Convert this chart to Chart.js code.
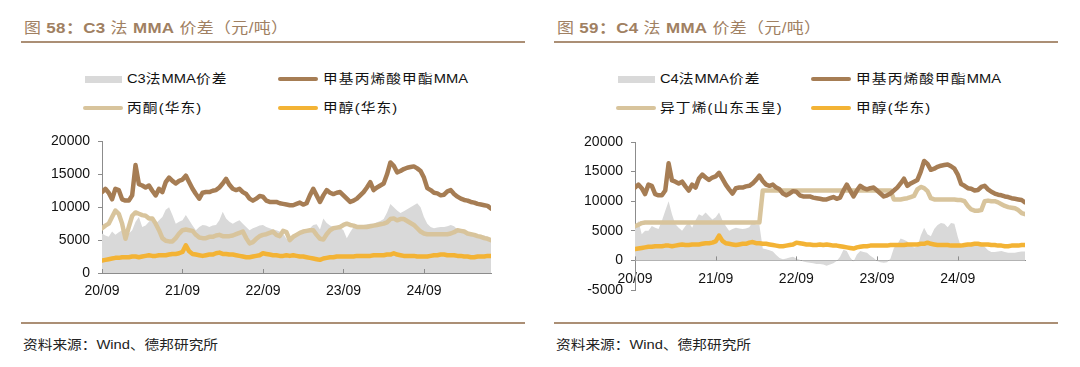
<!DOCTYPE html>
<html lang="zh-CN">
<head>
<meta charset="UTF-8">
<title>MMA 价差</title>
<style>
  body {
    margin: 0;
    width: 1080px;
    height: 367px;
    background: #fff;
    overflow: hidden;
    position: relative;
    font-family: 'Liberation Sans', Arial, 'Noto Sans CJK SC', sans-serif;
    color: #111;
  }
  .panel { position: absolute; top: 0; width: 530px; height: 367px; }
  /* the source picture's text is a little wider than plain Arial */
  .title, .lg, .source { transform: scaleX(1.13); transform-origin: 0 50%; white-space: nowrap; }
  .title {
    position: absolute; left: 24px; top: 16px;
    font-size: 15px; color: #a08062; letter-spacing: 0.3px;
  }
  .rule { position: absolute; left: 21px; width: 504px; height: 2px; background: #ab8f75; }
  .lg { position: absolute; font-size: 13px; line-height: 16px; letter-spacing: 1px; }
  .lg span { letter-spacing: 0; }
  .sw { position: absolute; }
  .source { position: absolute; left: 23px; top: 334px; font-size: 13px; color: #222; }
  canvas { position: absolute; left: 0; top: 125px; }
</style>
</head>
<body>
<div class="panel" style="left:0">
  <div class="title">图 <b>58：C3</b> 法 <b>MMA</b> 价差（元/吨）</div>
  <div class="rule" style="top:41px"></div>
  <div class="sw" style="left:85px;top:76px;width:37px;height:7px;background:#d9d9d9"></div>
  <div class="lg" style="left:127px;top:71px"><span>C3</span>法<span>MMA</span>价差</div>
  <div class="sw" style="left:278px;top:77px;width:40px;height:4px;border-radius:2px;background:#a67d54"></div>
  <div class="lg" style="left:323px;top:71px">甲基丙烯酸甲酯<span>MMA</span></div>
  <div class="sw" style="left:83px;top:106px;width:40px;height:4px;border-radius:2px;background:#d8c49c"></div>
  <div class="lg" style="left:127px;top:100px">丙酮(华东)</div>
  <div class="sw" style="left:278px;top:106px;width:40px;height:4px;border-radius:2px;background:#f3b335"></div>
  <div class="lg" style="left:323px;top:100px">甲醇(华东)</div>
  <canvas id="c3Chart" width="530" height="190"></canvas>
  <div class="rule" style="top:322px"></div>
  <div class="source">资料来源：Wind、德邦研究所</div>
</div>
<div class="panel" style="left:533px">
  <div class="title">图 <b>59：C4</b> 法 <b>MMA</b> 价差（元/吨）</div>
  <div class="rule" style="top:41px"></div>
  <div class="sw" style="left:85px;top:76px;width:37px;height:7px;background:#d9d9d9"></div>
  <div class="lg" style="left:127px;top:71px"><span>C4</span>法<span>MMA</span>价差</div>
  <div class="sw" style="left:278px;top:77px;width:40px;height:4px;border-radius:2px;background:#a67d54"></div>
  <div class="lg" style="left:323px;top:71px">甲基丙烯酸甲酯<span>MMA</span></div>
  <div class="sw" style="left:83px;top:106px;width:40px;height:4px;border-radius:2px;background:#d8c49c"></div>
  <div class="lg" style="left:127px;top:100px">异丁烯(山东玉皇)</div>
  <div class="sw" style="left:278px;top:106px;width:40px;height:4px;border-radius:2px;background:#f3b335"></div>
  <div class="lg" style="left:323px;top:100px">甲醇(华东)</div>
  <canvas id="c4Chart" width="530" height="190"></canvas>
  <div class="rule" style="top:322px"></div>
  <div class="source">资料来源：Wind、德邦研究所</div>
</div>

<script src="https://cdn.jsdelivr.net/npm/chart.js"></script>
<script>
// half-month samples starting 2020-09
const mmaPrice = [
  12300, 12800, 12200, 11200, 12800, 12600, 11200, 11000, 11000, 11800,
  16400, 13500, 13300, 13000, 13300, 12500, 11800, 12800, 12300, 13800,
  14500, 14000, 13600, 14000, 14200, 14800, 13800, 12800, 12000, 11300,
  12200, 12300, 12300, 12500, 12600, 13000, 13600, 14300, 13400, 12800,
  12600, 12800, 12300, 12000, 11300, 11000, 11300, 11700, 11600, 11000,
  10800, 10800, 10800, 10600, 10500, 10400, 10300, 10300, 10500, 10700,
  10400, 10600, 11800, 12800, 11800, 10800, 11800, 12600, 12200, 12000,
  12200, 12300, 11800, 11300, 10800, 11000, 11300, 11800, 12300, 13000,
  13800, 12600, 13000, 13300, 13600, 15000, 16800, 16300, 15300, 15500,
  15800, 16000, 16100, 16200, 15900, 15500, 14500, 12900, 12600, 12200,
  12100, 11800, 11900, 12400, 12600, 12000, 11600, 11300, 11100, 11000,
  10800, 10700, 10500, 10400, 10300, 10200, 9800
];
const methanolPrice = [
  1900, 2000, 2100, 2200, 2300, 2300, 2400, 2400, 2400, 2500,
  2500, 2400, 2500, 2600, 2700, 2600, 2600, 2700, 2700, 2700,
  2800, 2900, 2900, 3000, 3200, 4200, 3300, 2900, 2800, 2700,
  2600, 2700, 2800, 2800, 3000, 3100, 2900, 2900, 2800, 2800,
  2700, 2600, 2500, 2400, 2400, 2500, 2600, 2700, 3000, 2900,
  2800, 2700, 2700, 2600, 2600, 2700, 2600, 2700, 2600, 2500,
  2500, 2400, 2300, 2200, 2100, 2000, 2200, 2300, 2400, 2400,
  2500, 2500, 2500, 2500, 2500, 2500, 2600, 2600, 2600, 2600,
  2600, 2700, 2700, 2700, 2700, 2800, 2800, 3000, 2800, 2700,
  2600, 2600, 2600, 2600, 2500, 2500, 2500, 2500, 2600, 2700,
  2700, 2800, 2800, 2700, 2700, 2700, 2600, 2600, 2500, 2500,
  2400, 2400, 2500, 2500, 2500, 2600, 2600
];
const acetonePrice = [
  6800, 7200, 7500, 8500, 9500, 9000, 7500, 5200, 7000, 8700,
  9200, 9000, 8800, 8700, 8300, 8300, 7500, 6500, 5300, 4900,
  4800, 4800, 5300, 6000, 6500, 6600, 6500, 6400, 5800, 5400,
  5300, 5300, 5500, 5500, 5700, 5800, 5600, 5600, 5600, 5700,
  5900, 6100, 6300, 5300, 4500, 4700, 5200, 5600, 5800, 5900,
  6100, 6300, 5800, 5600, 6400, 6200, 5000, 5500, 5800, 6100,
  6300, 6400, 6500, 6500, 5800, 5200, 5100, 5900, 6500, 6800,
  6900, 7000, 7300, 7500, 7300, 7200, 7000, 7000, 7000, 7000,
  7100, 7200, 7300, 7400, 7500, 7700, 8200, 8300, 8000, 8200,
  8200, 7900, 7600, 7300, 6800, 6300, 6000, 5900, 5900, 5900,
  5900, 5900, 5900, 5900, 6000, 6200, 6500, 6400, 6300, 6000,
  5900, 5800, 5600, 5500, 5300, 5200, 5000
];
const c3Spread = [
  6000, 5700, 5500, 6300, 5800, 6200, 6500, 5000, 6000, 6500,
  7800, 8500, 7000, 7200, 7800, 8300, 7500, 8000, 8500, 9600,
  10000, 8800, 7500, 7800, 8000, 8800, 8000, 7200, 6500, 7000,
  7300, 7200, 7000, 7200, 7300, 8000, 9300, 8300, 7800, 7500,
  7800, 8000, 7500, 7000, 6500, 6800, 7000, 7200, 7300, 7000,
  6800, 6600, 6500, 6300, 6000, 5200, 5300, 5600, 5800, 6000,
  6200, 6500, 6800, 7300, 7400, 6600, 8300, 7600, 7200, 7000,
  7000, 6900, 6500, 5300, 6200, 7000, 7100, 7200, 7300, 7400,
  7500, 7500, 7700, 7900, 8200, 9200, 10500, 10000, 9500, 9100,
  9400, 9700, 10000, 10300, 10600, 10000, 8500, 7500, 7000, 6800,
  6900, 7000, 7000, 7100, 7300, 7100, 6600, 6500, 6400, 6300,
  6100, 6000, 5800, 5700, 5700, 5500, 5300
];
const isobutylenePrice = [
  5800, 6000, 6300, 6400, 6400, 6400, 6400, 6400, 6400, 6400,
  6400, 6400, 6400, 6400, 6400, 6400, 6400, 6400, 6400, 6400,
  6400, 6400, 6400, 6400, 6400, 6400, 6400, 6400, 6400, 6400,
  6400, 6400, 6400, 6400, 6400, 6400, 6400, 6400, 11800, 11800,
  11800, 11800, 11800, 11800, 11800, 11800, 11800, 11800, 11800, 11800,
  11800, 11800, 11800, 11800, 11800, 11800, 11800, 11800, 11800, 11800,
  11800, 11800, 11800, 11800, 11800, 11800, 11800, 11800, 11800, 11800,
  11800, 11800, 11800, 11800, 11800, 11800, 11800, 10300, 10300, 10300,
  10400, 10500, 10700, 10900, 12000, 12400, 12200, 11700, 10500, 10300,
  10300, 10300, 10300, 10300, 10300, 10300, 10200, 10200, 10000, 9200,
  8600, 8400, 8400, 8500, 10000, 10100, 10000, 10000, 9800, 9500,
  9200, 9000, 8900, 8800, 8500, 8000, 7800
];
const c4Spread = [
  5300, 6700, 4400, 5000, 5000, 5800, 5500, 5300, 6700, 8400,
  10000, 7800, 6100, 5500, 5000, 5800, 6400, 5500, 6800, 7800,
  7500, 8100, 7500, 6900, 7300, 8100, 6800, 5800, 5000, 5300,
  5500, 5400, 5300, 5400, 5600, 6500, 6000, 6000, 2000, 1900,
  1700, 1500, 900, 400, 200, 300, 500, 600, 300, 100,
  -200, -300, -400, -500, -600, -600, -700, -900, -700, -500,
  -100, 600, 1800, 1600, 500, -200, 1000, 1600, 1400, 1300,
  800, 400, -100, -300, -400, -300, 300, 2100, 2700, 3700,
  3500, 3200, 2500, 2200, 2300, 4200, 5500, 4400, 4100, 5300,
  6000, 6300, 6200, 5600, 6300, 6200, 4000, 2200, 2300, 2700,
  3000, 2700, 2500, 2600, 2300, 1700, 1400, 1400, 1500, 1600,
  1400, 1300, 1300, 1300, 1400, 1500, 1500
];
const yearTicks = [0, 12, 24, 36, 48];
const yearLabels = ['20/09', '21/09', '22/09', '23/09', '24/09'];

// months since 2020-09 for each sample
const months = mmaPrice.map((_, i) => i / 2);

const BROWN = '#a67d54', TAN = '#d8c49c', ORANGE = '#f3b335', GREY = '#d9d9d9';
const AXIS = '#8c8c8c';

// x ticks in the picture point up into the plot
const innerTicks = {
  id: 'innerTicks',
  afterDraw(chart) {
    const x = chart.scales.x, y = chart.scales.y;
    const y0 = y.getPixelForValue(0);
    const ctx = chart.ctx;
    ctx.save();
    ctx.strokeStyle = AXIS;
    ctx.lineWidth = 1;
    yearTicks.forEach(t => {
      const px = Math.round(x.getPixelForValue(t)) + 0.5;
      ctx.beginPath();
      ctx.moveTo(px, y0);
      ctx.lineTo(px, y0 - 4);
      ctx.stroke();
    });
    ctx.restore();
  }
};

function line(data, color, order) {
  return {
    data: months.map((m, i) => ({ x: m, y: data[i] })),
    borderColor: color, borderWidth: 4.5, pointRadius: 0,
    borderJoinStyle: 'round', borderCapStyle: 'round',
    fill: false, order: order
  };
}

function makeChart(id, spread, feed, yMin, yAxisWidth, pad) {
  const area = {
    data: months.map((m, i) => ({ x: m, y: spread[i] })),
    borderWidth: 0, pointRadius: 0, backgroundColor: GREY,
    fill: 'origin', order: 4
  };
  new Chart(document.getElementById(id), {
    type: 'line',
    data: {
      datasets: [
        line(mmaPrice, BROWN, 0),
        line(methanolPrice, ORANGE, 1),
        line(feed, TAN, 2),
        area
      ]
    },
    options: {
      responsive: false,
      animation: false,
      layout: { padding: pad },
      plugins: { legend: { display: false }, tooltip: { enabled: false } },
      scales: {
        x: {
          type: 'linear',
          position: { y: 0 },
          min: 0, max: 58,
          afterBuildTicks: s => { s.ticks = yearTicks.map(v => ({ value: v })); },
          ticks: {
            callback: v => yearLabels[yearTicks.indexOf(v)],
            color: '#111', padding: 10, maxRotation: 0,
            font: { family: "'Liberation Sans', Arial", size: 14 }
          },
          grid: { drawOnChartArea: false, drawTicks: false },
          border: { color: AXIS }
        },
        y: {
          min: yMin, max: 20000,
          ticks: {
            stepSize: 5000, color: '#111', padding: 8,
            callback: v => String(v),
            font: { family: "'Liberation Sans', Arial", size: 14 }
          },
          afterFit: s => { s.width = yAxisWidth; },
          grid: { drawOnChartArea: false, tickLength: 4, color: AXIS },
          border: { color: AXIS }
        }
      }
    },
    plugins: [innerTicks]
  });
}

makeChart('c3Chart', c3Spread, acetonePrice, 0, 102, { top: 16, right: 39, bottom: 42, left: 0 });
makeChart('c4Chart', c4Spread, isobutylenePrice, -5000, 102, { top: 17, right: 38, bottom: 25, left: 0 });
</script>
</body>
</html>
